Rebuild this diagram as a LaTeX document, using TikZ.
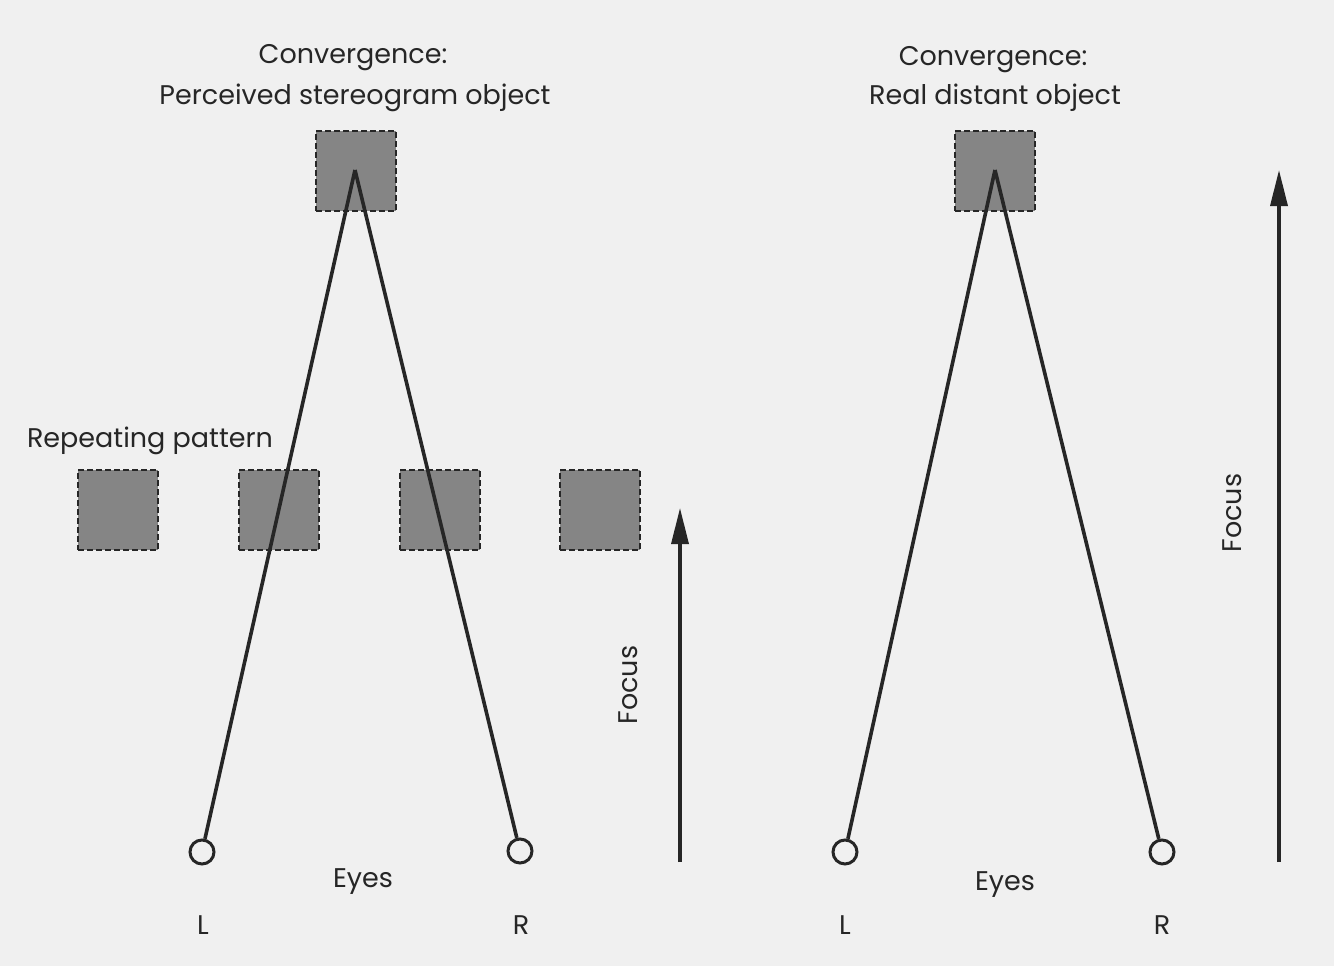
\documentclass[tikz,border=0pt]{standalone}
\usepackage{fontspec}
\setmainfont{Poppins}
\usetikzlibrary{arrows.meta}
\definecolor{ink}{HTML}{262626}
\definecolor{boxfill}{HTML}{858585}
\definecolor{paper}{HTML}{F0F0F0}
\begin{document}
\begin{tikzpicture}[x=1pt,y=-1pt,
  sq/.style={draw=ink,fill=boxfill,dash pattern=on 6pt off 3pt,line width=2.6pt,minimum size=80pt,inner sep=0pt},
  eye/.style={draw=ink,circle,line width=3pt,minimum size=24pt,inner sep=0pt,fill=paper},
  ray/.style={draw=ink,line width=3.6pt},
  lbl/.style={text=ink,font=\fontsize{27}{32}\selectfont,inner sep=0pt},
  focusarrow/.style={draw=ink,line width=3.4pt,-{Triangle[length=36pt,width=17pt]}}
]
\fill[paper] (0,0) rectangle (1334,966);
\useasboundingbox (0,0) rectangle (1334,966);
% ---------- left panel ----------
\node[sq] (topL) at (356,171) {};
\node[sq] (p1) at (118,510) {};
\node[sq] (p2) at (279,510) {};
\node[sq] (p3) at (440,510) {};
\node[sq] (p4) at (600,510) {};
\coordinate (apexL) at (355,170);
\node[eye] (eL1) at (202,852) {};
\node[eye] (eR1) at (520,851) {};
\draw[ray] (apexL) -- (eL1);
\draw[ray] (apexL) -- (eR1);
\node[lbl] (t1a) at (353,58) {Convergence:};
\node[lbl] (t1b) at (355,98) {Perceived stereogram object};
\node[lbl] (rep) at (150,441) {Repeating pattern};
\node[lbl] (eyes1) at (363,882) {Eyes};
\node[lbl] (l1) at (203,925) {L};
\node[lbl] (r1) at (521,925) {R};
\coordinate (f1s) at (680,862);
\coordinate (f1e) at (680,508);
\draw[focusarrow] (f1s) -- (f1e);
\node[lbl,rotate=90] (foc1) at (628,685) {Focus};
% ---------- right panel ----------
\node[sq] (topR) at (995,171) {};
\coordinate (apexR) at (995,170);
\node[eye] (eL2) at (845,852) {};
\node[eye] (eR2) at (1162,852) {};
\draw[ray] (apexR) -- (eL2);
\draw[ray] (apexR) -- (eR2);
\node[lbl] (t2a) at (993,60) {Convergence:};
\node[lbl] (t2b) at (995,98) {Real distant object};
\node[lbl] (eyes2) at (1005,885) {Eyes};
\node[lbl] (l2) at (845,925) {L};
\node[lbl] (r2) at (1162,925) {R};
\coordinate (f2s) at (1279,862);
\coordinate (f2e) at (1279,170);
\draw[focusarrow] (f2s) -- (f2e);
\node[lbl,rotate=90] (foc2) at (1232,513) {Focus};
\end{tikzpicture}
\end{document}
